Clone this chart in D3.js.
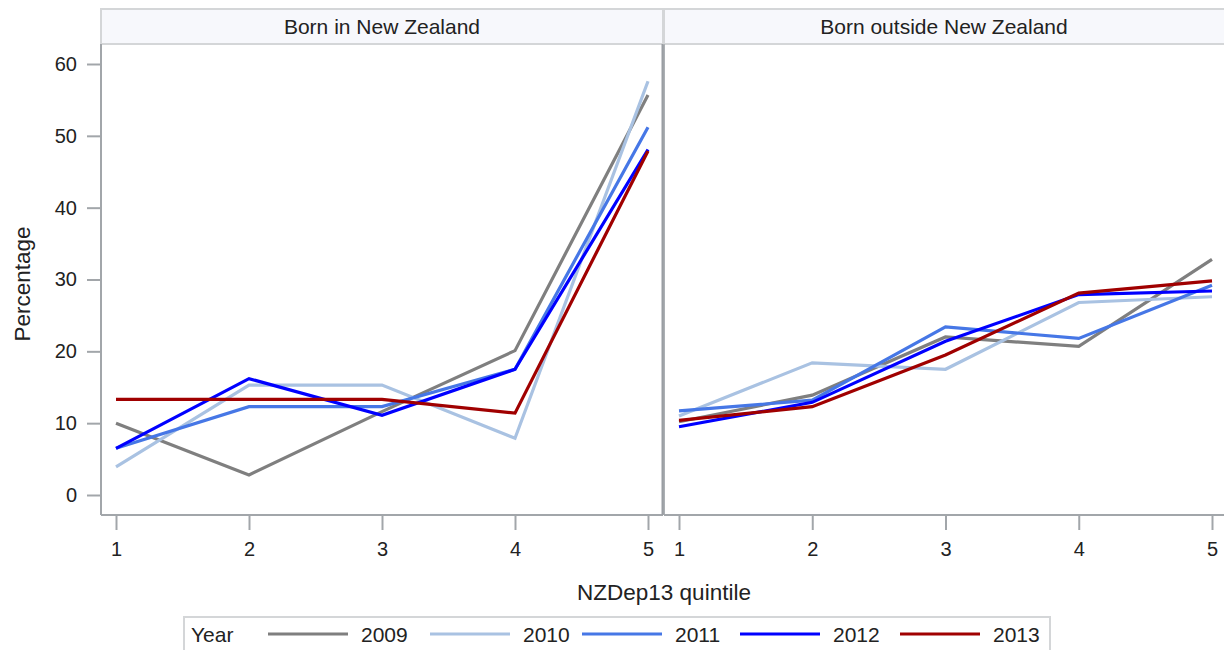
<!DOCTYPE html>
<html>
<head>
<meta charset="utf-8">
<script src="https://cdn.jsdelivr.net/npm/d3@7"></script>
<style>
  html, body { margin: 0; padding: 0; background: #fff; }
  svg { display: block; font-family: "Liberation Sans", Arial, sans-serif; }
</style>
</head>
<body>
<svg id="chart" width="1224" height="650"></svg>
<script>
// Quintiles on the x axis
const quintiles = [1, 2, 3, 4, 5];
const years = ["2009", "2010", "2011", "2012", "2013"];
const panels = ["Born in New Zealand", "Born outside New Zealand"];
const yTicks = [0, 10, 20, 30, 40, 50, 60];

// Percentage by year, born in New Zealand
const bornNZ2009 = [10.0, 2.8, 11.6, 20.1, 55.7];
const bornNZ2010 = [3.9, 15.3, 15.3, 7.9, 57.6];
const bornNZ2011 = [6.5, 12.3, 12.3, 17.5, 51.2];
const bornNZ2012 = [6.5, 16.2, 11.1, 17.5, 48.1];
const bornNZ2013 = [13.3, 13.3, 13.3, 11.4, 47.9];

// Percentage by year, born outside New Zealand
const bornOS2009 = [10.2, 13.9, 22.0, 20.7, 32.8];
const bornOS2010 = [11.0, 18.4, 17.5, 26.8, 27.6];
const bornOS2011 = [11.7, 13.2, 23.4, 21.8, 29.2];
const bornOS2012 = [9.5, 12.9, 21.4, 27.9, 28.4];
const bornOS2013 = [10.4, 12.3, 19.5, 28.1, 29.8];

const yearColors = ["#7f7f7f", "#a9c2e2", "#4677e6", "#0000ff", "#a00000"];

const panelData = [
  [bornNZ2009, bornNZ2010, bornNZ2011, bornNZ2012, bornNZ2013],
  [bornOS2009, bornOS2010, bornOS2011, bornOS2012, bornOS2013]
];

const svg = d3.select("#chart");
const frameColor = "#a2a6aa";
const textColor = "#222";
const fontStack = "Liberation Sans, Arial, sans-serif";

const plotTop = 44, plotBottom = 515, headerTop = 9;
const panelX = [[101, 663], [664, 1240]];
const pad = 15;

const y = d3.scaleLinear().domain([0, 60]).range([495, 64]);

panelData.forEach((seriesList, p) => {
  const [x0, x1] = panelX[p];
  const xEnd = p === 0 ? x1 : 1230;
  const x = d3.scalePoint().domain(quintiles).range([x0 + pad, (p === 0 ? x1 - pad : 1212)]);

  const g = svg.append("g");

  // header strip
  g.append("rect")
    .attr("x", x0).attr("y", headerTop)
    .attr("width", xEnd - x0).attr("height", plotTop - headerTop)
    .attr("fill", "#f7f8fc").attr("stroke", "#d4d6d8").attr("stroke-width", 2);
  g.append("text")
    .attr("x", (x0 + (p === 0 ? x1 : 1224)) / 2).attr("y", 34)
    .attr("text-anchor", "middle").attr("font-size", 21).attr("fill", textColor)
    .text(panels[p]);

  // series lines
  const line = d3.line().x((d, i) => x(quintiles[i])).y(d => y(d));
  seriesList.forEach((vals, k) => {
    g.append("path").datum(vals)
      .attr("d", line).attr("fill", "none")
      .attr("stroke", yearColors[k]).attr("stroke-width", 3.2)
      .attr("stroke-linejoin", "miter");
  });

  // frame
  g.append("line").attr("x1", x0).attr("x2", x0).attr("y1", plotTop).attr("y2", plotBottom)
    .attr("stroke", frameColor).attr("stroke-width", p === 0 ? 2 : 1.5);
  g.append("line").attr("x1", x0).attr("x2", xEnd).attr("y1", plotBottom).attr("y2", plotBottom)
    .attr("stroke", frameColor).attr("stroke-width", 2);
  if (p === 0) {
    g.append("line").attr("x1", x1).attr("x2", x1).attr("y1", plotTop).attr("y2", plotBottom)
      .attr("stroke", "#9a9ea3").attr("stroke-width", 3);
  }

  // x axis
  const xAxis = d3.axisBottom(x).tickSize(14).tickPadding(12);
  const ax = g.append("g").attr("transform", `translate(0,${plotBottom + 1})`).call(xAxis);
  ax.select(".domain").remove();
  ax.selectAll(".tick line").attr("stroke", frameColor).attr("stroke-width", 2);
  ax.selectAll(".tick text").attr("font-size", 20).attr("fill", textColor).attr("font-family", fontStack);

  // y axis (left panel only)
  if (p === 0) {
    const yAxis = d3.axisLeft(y).tickValues(yTicks).tickSize(13).tickPadding(10);
    const ay = g.append("g").attr("transform", `translate(${x0 - 1},0)`).call(yAxis);
    ay.select(".domain").remove();
    ay.selectAll(".tick line").attr("stroke", frameColor).attr("stroke-width", 2);
    ay.selectAll(".tick text").attr("font-size", 20).attr("fill", textColor).attr("font-family", fontStack);
  }
});

// axis titles
svg.append("text")
  .attr("x", 664).attr("y", 600)
  .attr("text-anchor", "middle").attr("font-size", 22.5).attr("fill", textColor)
  .text("NZDep13 quintile");
svg.append("text")
  .attr("transform", "translate(30,284) rotate(-90)")
  .attr("text-anchor", "middle").attr("font-size", 22.5).attr("fill", textColor)
  .text("Percentage");

// legend
const legend = svg.append("g");
legend.append("rect")
  .attr("x", 184).attr("y", 617).attr("width", 866).attr("height", 40)
  .attr("fill", "#fff").attr("stroke", "#d4d6d8").attr("stroke-width", 2);
legend.append("text")
  .attr("x", 191).attr("y", 642).attr("font-size", 21).attr("fill", textColor)
  .text("Year");
const legendStart = [268, 430, 582, 740, 900];
years.forEach((yr, k) => {
  legend.append("line")
    .attr("x1", legendStart[k]).attr("x2", legendStart[k] + 80)
    .attr("y1", 634).attr("y2", 634)
    .attr("stroke", yearColors[k]).attr("stroke-width", 3.2);
  legend.append("text")
    .attr("x", legendStart[k] + 93).attr("y", 642)
    .attr("font-size", 21).attr("fill", textColor)
    .text(yr);
});
</script>
</body>
</html>
